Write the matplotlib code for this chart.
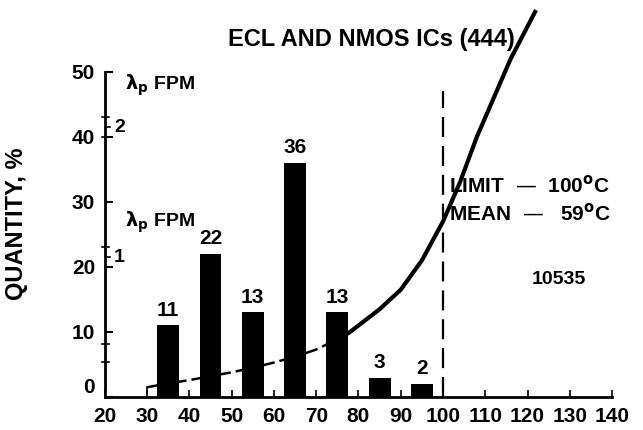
import matplotlib
matplotlib.use('Agg')
import matplotlib.pyplot as plt

# bar data (temperature bins, % of parts)
bin_centers = [35, 45, 55, 65, 75, 85, 95]
quantity = [11, 22, 13, 36, 13, 3, 2]

# lambda_p curve (dashed part, then solid part)
curve_x_dashed = [30, 35, 40, 45, 50, 55, 60, 65, 70, 76]
curve_y_dashed = [1.5, 2.1, 2.6, 3.2, 3.8, 4.5, 5.3, 6.2, 7.3, 9.2]
curve_x_solid = [76, 78, 80, 85, 90, 95, 100, 104, 108, 112, 116, 120, 122]
curve_y_solid = [9.2, 10.0, 11.0, 13.5, 16.5, 21.0, 27.0, 33.0, 40.0, 46.0, 52.0, 57.0, 59.5]

x_ticks = [20, 30, 40, 50, 60, 70, 80, 90, 100, 110, 120, 130, 140]
y_ticks = [0, 10, 20, 30, 40, 50]
fpm_ticks = [21.5, 41.5]
fpm_labels = ['1', '2']

limit_temp = 100

plt.rcParams['font.family'] = ['Liberation Sans', 'DejaVu Sans']
plt.rcParams['font.weight'] = 'bold'

fig = plt.figure(figsize=(6.43, 4.30), dpi=100)
ax = fig.add_axes([0.163, 0.0767, 0.789, 0.912])
ax.set_xlim(20, 140)
ax.set_ylim(0, 60.3)

ax.bar(bin_centers, quantity, width=5.2, color='black')
for xc, q in zip(bin_centers, quantity):
    ax.text(xc, q + 0.9, str(q), ha='center', va='bottom', fontsize=15, fontweight='bold')

ax.plot(curve_x_dashed, curve_y_dashed, color='black', lw=1.8, ls=(0, (7, 2)))
ax.plot([30, 30], [0.6, 1.5], color='black', lw=1.2)
ax.plot(curve_x_solid, curve_y_solid, color='black', lw=3.0, solid_capstyle='butt')

ax.plot([limit_temp, limit_temp], [0, 47.0], color='black', lw=1.6, ls=(0, (9, 4)))

# spines
for s in ['top', 'right']:
    ax.spines[s].set_visible(False)
ax.spines['left'].set_bounds(0, 50)
ax.spines['left'].set_linewidth(2)
ax.spines['bottom'].set_linewidth(2)

ax.set_xticks(x_ticks)
ax.set_xticklabels([str(t) for t in x_ticks], fontsize=15, fontweight='bold')
ax.set_yticks(y_ticks)
ax.set_yticklabels([str(t) for t in y_ticks], fontsize=15, fontweight='bold')
ax.tick_params(axis='x', direction='in', length=5, width=1.2, pad=7)
ax.tick_params(axis='y', direction='in', length=6, width=1.5, pad=7)
ax.get_yticklabels()[0].set_va('bottom')

# inner FPM scale
for t, lab in zip(fpm_ticks, fpm_labels):
    ax.plot([20, 21.3], [t, t], color='black', lw=1.2)
    ax.text(22.2, t, lab, ha='left', va='center', fontsize=14, fontweight='bold')
for t in [5.4, 8.2, 23.0, 40.0, 43.0]:
    ax.plot([19.3, 21.0], [t, t], color='black', lw=1.2, clip_on=False)

ax.text(24.8, 48.0, r'$\mathbf{\lambda_p}$ FPM', fontsize=14, fontweight='bold', va='center')
ax.text(24.8, 26.8, r'$\mathbf{\lambda_p}$ FPM', fontsize=14, fontweight='bold', va='center')

ax.text(83, 55.0, 'ECL AND NMOS ICs (444)', ha='center', va='center', fontsize=17, fontweight='bold')
ax.text(101.3, 32.6, 'LIMIT  \u2014  100$^\\mathrm{o}$C', ha='left', va='center', fontsize=15, fontweight='bold')
ax.text(101.3, 28.2, 'MEAN  \u2014   59$^\\mathrm{o}$C', ha='left', va='center', fontsize=15, fontweight='bold')
ax.text(127.3, 18.0, '10535', ha='center', va='center', fontsize=14, fontweight='bold')

fig.text(0.026, 0.48, 'QUANTITY, %', rotation=90, ha='center', va='center', fontsize=17, fontweight='bold')

fig.savefig('out.png', dpi=100)
